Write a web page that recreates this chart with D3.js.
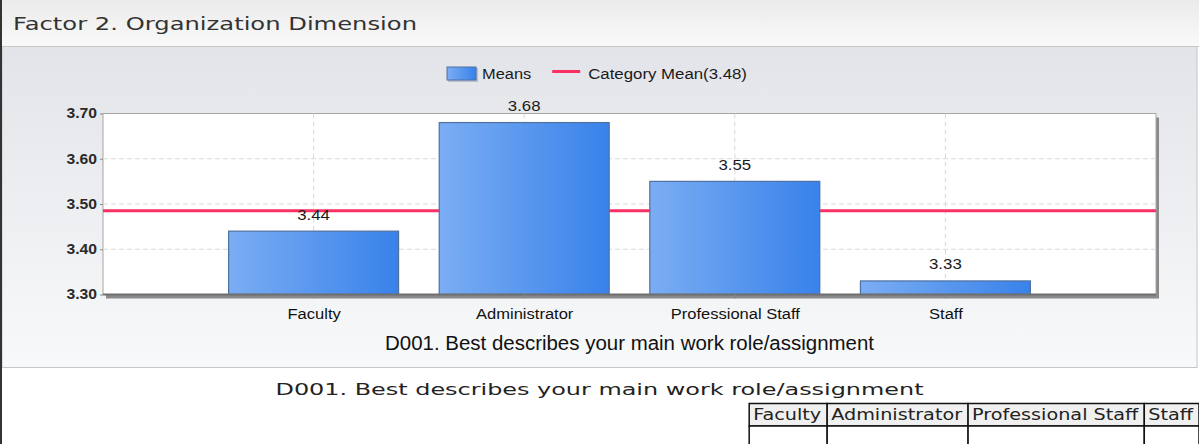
<!DOCTYPE html>
<html>
<head>
<meta charset="utf-8">
<script src="https://cdn.jsdelivr.net/npm/d3@7"></script>
<style>
  body { margin: 0; background: #fff; overflow: hidden; }
  svg { display: block; }
</style>
</head>
<body>
<div id="chart"></div>
<script>
const pageTitle = "Factor 2. Organization Dimension";
const axisTitle = "D001. Best describes your main work role/assignment";
const categories = ["Faculty", "Administrator", "Professional Staff", "Staff"];
const means = [3.44, 3.68, 3.55, 3.33];
const categoryMean = 3.485;
const legendLabels = ["Means", "Category Mean(3.48)"];
const yTicks = [3.30, 3.40, 3.50, 3.60, 3.70];

const W = 1199, H = 444;
const chartFont = "'Liberation Sans', Arial, sans-serif";
const pageFont = "'DejaVu Sans', Verdana, sans-serif";

const svg = d3.select("#chart").append("svg")
    .attr("width", W)
    .attr("height", H);

const defs = svg.append("defs");

function vGrad(id, top, bottom) {
    const g = defs.append("linearGradient").attr("id", id)
        .attr("x1", 0).attr("y1", 0).attr("x2", 0).attr("y2", 1);
    g.append("stop").attr("offset", "0%").attr("stop-color", top);
    g.append("stop").attr("offset", "100%").attr("stop-color", bottom);
}
vGrad("titleBg", "#ebebeb", "#f9f9f9");
vGrad("panelBg", "#e2e4e9", "#f8f9fa");

const barGrad = defs.append("linearGradient").attr("id", "barFill")
    .attr("x1", 0).attr("y1", 0).attr("x2", 1).attr("y2", 0);
barGrad.append("stop").attr("offset", "0%").attr("stop-color", "#7badf3");
barGrad.append("stop").attr("offset", "100%").attr("stop-color", "#3882ea");

// stretch text horizontally, the source render is wider than our fonts
function stretch(sel, sx) {
    sel.each(function () {
        const w = this.getComputedTextLength();
        d3.select(this).attr("textLength", w * sx).attr("lengthAdjust", "spacingAndGlyphs");
    });
}

// title strip
svg.append("rect").attr("x", 0).attr("y", 0).attr("width", W).attr("height", 46)
    .attr("fill", "url(#titleBg)");
svg.append("text")
    .attr("x", 13).attr("y", 30)
    .attr("font-family", pageFont).attr("font-size", 17)
    .attr("fill", "#333")
    .attr("textLength", 404).attr("lengthAdjust", "spacingAndGlyphs")
    .text(pageTitle);

// chart panel
svg.append("rect").attr("x", 2).attr("y", 46.5).attr("width", 1195).attr("height", 321)
    .attr("fill", "url(#panelBg)")
    .attr("stroke", "#c4c6ca");
svg.append("line").attr("x1", 0).attr("x2", W).attr("y1", 46.5).attr("y2", 46.5)
    .attr("stroke", "#c8c8c8");

const plot = { left: 103, right: 1156, top: 113.5, bottom: 294.5 };

const x = d3.scalePoint()
    .domain(categories)
    .range([plot.left, plot.right])
    .padding(1);

const y = d3.scaleLinear()
    .domain([3.3, 3.7])
    .range([plot.bottom, plot.top]);

const barW = x.step() * 0.807;

// plot frame with shadow
svg.append("rect")
    .attr("x", plot.left + 3).attr("y", plot.top + 4)
    .attr("width", plot.right - plot.left).attr("height", plot.bottom - plot.top)
    .attr("fill", "#8a8a8a");
svg.append("rect")
    .attr("x", plot.left).attr("y", plot.top)
    .attr("width", plot.right - plot.left).attr("height", plot.bottom - plot.top)
    .attr("fill", "#fff")
    .attr("stroke", "#a6a6a6");

// grid
svg.append("g").selectAll("line.hgrid")
    .data(yTicks.filter(d => d > 3.3 && d < 3.7))
    .enter().append("line")
    .attr("x1", plot.left).attr("x2", plot.right)
    .attr("y1", d => y(d)).attr("y2", d => y(d))
    .attr("stroke", "#d9d9d9")
    .attr("stroke-dasharray", "5,3");

svg.append("g").selectAll("line.vgrid")
    .data(categories)
    .enter().append("line")
    .attr("x1", d => x(d)).attr("x2", d => x(d))
    .attr("y1", plot.top).attr("y2", plot.bottom)
    .attr("stroke", "#d9d9d9")
    .attr("stroke-dasharray", "5,3");

// category mean line
svg.append("line")
    .attr("x1", plot.left).attr("x2", plot.right)
    .attr("y1", y(categoryMean)).attr("y2", y(categoryMean))
    .attr("stroke", "#fb2f63")
    .attr("stroke-width", 3);

// bars
svg.append("g").selectAll("rect")
    .data(categories)
    .enter().append("rect")
    .attr("x", d => x(d) - barW / 2)
    .attr("y", (d, i) => y(means[i]))
    .attr("width", barW)
    .attr("height", (d, i) => y(3.3) - y(means[i]))
    .attr("fill", "url(#barFill)")
    .attr("stroke", "#50709f")
    .attr("stroke-width", 1.2);

// value labels
const valLabels = svg.append("g").selectAll("text")
    .data(categories)
    .enter().append("text")
    .attr("x", d => x(d))
    .attr("y", (d, i) => y(means[i]) - 11.5)
    .attr("text-anchor", "middle")
    .attr("font-family", chartFont).attr("font-size", 15)
    .attr("fill", "#1a1a1a")
    .text((d, i) => means[i].toFixed(2));
stretch(valLabels, 1.12);

// bottom border of plot
svg.append("line")
    .attr("x1", plot.left).attr("x2", plot.right)
    .attr("y1", plot.bottom).attr("y2", plot.bottom)
    .attr("stroke", "#6f6f6f").attr("stroke-width", 2);

// axes
const yAxis = svg.append("g")
    .attr("transform", `translate(${plot.left},0)`)
    .call(d3.axisLeft(y).tickValues(yTicks).tickSize(3).tickPadding(3).tickFormat(d3.format(".2f")));
yAxis.select(".domain").remove();
yAxis.selectAll(".tick line").attr("stroke", "#888");
yAxis.selectAll("text")
    .attr("font-family", chartFont).attr("font-size", 14)
    .attr("font-weight", "bold")
    .attr("fill", "#2a2a2a");
stretch(yAxis.selectAll("text"), 1.12);

const xAxis = svg.append("g")
    .attr("transform", `translate(0,${plot.bottom})`)
    .call(d3.axisBottom(x).tickSize(4).tickPadding(11));
xAxis.select(".domain").remove();
xAxis.selectAll(".tick line").attr("stroke", "#888");
xAxis.selectAll("text")
    .attr("font-family", chartFont).attr("font-size", 14)
    .attr("fill", "#111");
stretch(xAxis.selectAll("text"), 1.18);

svg.append("text")
    .attr("x", (plot.left + plot.right) / 2)
    .attr("y", 350)
    .attr("text-anchor", "middle")
    .attr("font-family", chartFont).attr("font-size", 19.5)
    .attr("fill", "#111")
    .attr("textLength", 489).attr("lengthAdjust", "spacingAndGlyphs")
    .text(axisTitle);

// legend
const legend = svg.append("g");
const legMeans = legend.append("text")
    .attr("y", 79)
    .attr("font-family", chartFont).attr("font-size", 14)
    .attr("fill", "#1a1a1a")
    .text(legendLabels[0]);
stretch(legMeans, 1.17);
const legCat = legend.append("text")
    .attr("y", 79)
    .attr("font-family", chartFont).attr("font-size", 14)
    .attr("fill", "#1a1a1a")
    .text(legendLabels[1]);
stretch(legCat, 1.2);

const wMeans = +legMeans.attr("textLength");
const wCat = +legCat.attr("textLength");
const legTotal = 30 + 5 + wMeans + 21 + 28 + 8 + wCat;
const lx = 597 - legTotal / 2;
legend.append("rect")
    .attr("x", lx + 1).attr("y", 68)
    .attr("width", 30).attr("height", 14)
    .attr("fill", "#8a9ab0").attr("opacity", 0.5);
legend.append("rect")
    .attr("x", lx).attr("y", 67)
    .attr("width", 29).attr("height", 13)
    .attr("fill", "url(#barFill)")
    .attr("stroke", "#50709f");
legMeans.attr("x", lx + 35);
const rx = lx + 35 + wMeans + 21;
legend.append("line")
    .attr("x1", rx).attr("x2", rx + 28)
    .attr("y1", 71.5).attr("y2", 71.5)
    .attr("stroke", "#fb2f63").attr("stroke-width", 3);
legCat.attr("x", rx + 36);

// below the chart
svg.append("text")
    .attr("x", W / 2)
    .attr("y", 395)
    .attr("text-anchor", "middle")
    .attr("font-family", pageFont).attr("font-size", 16)
    .attr("fill", "#222")
    .attr("textLength", 648).attr("lengthAdjust", "spacingAndGlyphs")
    .text(axisTitle);

// table, laid out from the right edge
const table = svg.append("g");
const rowTop = 403.5, rowH = 22.5;
const headTexts = table.selectAll("text")
    .data(categories)
    .enter().append("text")
    .attr("y", rowTop + 16.5)
    .attr("font-family", pageFont).attr("font-size", 15)
    .attr("fill", "#222")
    .text(d => d);
stretch(headTexts, 1.28);
const widths = [];
headTexts.each(function () { widths.push(+this.getAttribute("textLength") + 10); });
let cx = 1199;
const cellX = [];
for (let i = categories.length - 1; i >= 0; i--) {
    cx -= widths[i];
    cellX[i] = cx;
}
table.selectAll("rect.head")
    .data(categories)
    .enter().insert("rect", "text")
    .attr("x", (d, i) => cellX[i]).attr("y", rowTop)
    .attr("width", (d, i) => widths[i]).attr("height", rowH)
    .attr("fill", "#f0f0f0")
    .attr("stroke", "#111").attr("stroke-width", 1.5);
table.selectAll("rect.body")
    .data(categories)
    .enter().insert("rect", "text")
    .attr("x", (d, i) => cellX[i]).attr("y", rowTop + rowH)
    .attr("width", (d, i) => widths[i]).attr("height", rowH)
    .attr("fill", "#fff")
    .attr("stroke", "#111").attr("stroke-width", 1.5);
headTexts.attr("x", (d, i) => cellX[i] + 4);

// dark left edge of the page
svg.append("rect").attr("x", 0).attr("y", 0).attr("width", 2).attr("height", H)
    .attr("fill", "#333");
</script>
</body>
</html>
